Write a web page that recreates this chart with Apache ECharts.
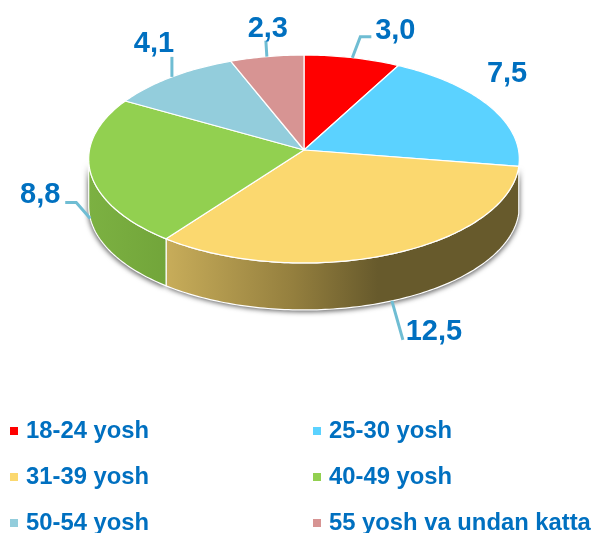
<!DOCTYPE html>
<html>
<head>
<meta charset="utf-8">
<style>html,body{margin:0;padding:0;background:#fff}#c{width:593px;height:533px}</style>
<script src="https://cdn.jsdelivr.net/npm/echarts@6/dist/echarts.min.js"></script>
</head>
<body>
<div id="c"></div>
<script>
const categories = ['18-24 yosh', '25-30 yosh', '31-39 yosh', '40-49 yosh', '50-54 yosh', '55 yosh va undan katta'];
const values = [3.0, 7.5, 12.5, 8.8, 4.1, 2.3];
const colors = ['#ff0000', '#5bd2ff', '#fbd86f', '#92d050', '#93cddc', '#d79493'];

// perspective disc geometry
const CX = 304, CY = 150, RX = 214.5, RY = 103.2, K = 0.0865, DEPTH = 47, FRONT_LIMIT = 265;
const TEXT = '#0070c0', LEADER = '#6fbdd3';
const FONT = '"Liberation Sans", Arial, sans-serif';

const wallFills = {
  2: [{ offset: 0, color: '#c8ad5a' }, { offset: 0.36, color: '#947f3e' }, { offset: 0.6, color: '#675a2c' }, { offset: 1, color: '#675a2c' }],
  3: [{ offset: 0, color: '#7cb142' }, { offset: 1, color: '#72a53a' }]
};
// label placement relative to the slice's rim anchor: [onWall, leader points, label centre]
const labelPlacement = [
  [false, [[8, -21], [19, -21]], [43, -27]],
  [false, [], [18, -32]],
  [true, [[11, 39]], [42, 31]],
  [true, [[-14, -16], [-25, -16]], [-50, -23]],
  [false, [[0, -20]], [-18, -33]],
  [false, [[-1, -16]], [1, -28]]
];

const total = values.reduce((a, b) => a + b, 0);
function rim(deg, dy) {
  const t = deg * Math.PI / 180, u = Math.sin(t), v = -Math.cos(t), d = 1 - K * v;
  return [CX + RX * u / d, CY + RY * v / d + (dy || 0)];
}
function arc(a, b, dy) {
  const pts = [], n = Math.max(2, Math.ceil(Math.abs(b - a)));
  for (let i = 0; i <= n; i++) pts.push(rim(a + (b - a) * i / n, dy));
  return pts;
}

function makeRender(i) {
  return function (params, api) {
    const value = api.value(0);
    let before = 0;
    for (let j = 0; j < i; j++) before += values[j];
    const start = before / total * 360, end = (before + value) / total * 360;
    const mid = (start + end) / 2;
    const children = [];

    // side wall (front half only)
    const wStart = Math.max(start, 95), wEnd = Math.min(end, FRONT_LIMIT);
    if (wEnd > wStart && wallFills[i]) {
      const wall = arc(wStart, wEnd, 0).concat(arc(wEnd, wStart, DEPTH));
      children.push({
        type: 'polygon', z2: 1, shape: { points: wall },
        style: { fill: '#888', shadowBlur: 5, shadowColor: 'rgba(0,0,0,0.6)', shadowOffsetX: i === 2 ? 1 : -1, shadowOffsetY: 2 }
      });
      children.push({
        type: 'polygon', z2: 2, shape: { points: wall },
        style: {
          fill: new echarts.graphic.LinearGradient(0, 0, 1, 0, wallFills[i]),
          stroke: '#fff', lineWidth: 1.2
        }
      });
    }

    // top face
    children.push({
      type: 'polygon', z2: 3, shape: { points: [[CX, CY]].concat(arc(start, end, 0)) },
      style: { fill: colors[i], stroke: '#fff', lineWidth: 1.2, lineJoin: 'round' }
    });

    // leader + value label
    const place = labelPlacement[i];
    const a = rim(mid, place[0] ? DEPTH : 0);
    if (place[1].length) {
      children.push({
        type: 'polyline', z2: 4,
        shape: { points: [a].concat(place[1].map(p => [a[0] + p[0], a[1] + p[1]])) },
        style: { fill: 'none', stroke: LEADER, lineWidth: 3 }
      });
    }
    children.push({
      type: 'text', z2: 5,
      style: {
        x: a[0] + place[2][0], y: a[1] + place[2][1],
        text: value.toFixed(1).replace('.', ','),
        fill: TEXT, fontFamily: FONT, fontWeight: 'bold', fontSize: 29,
        align: 'center', verticalAlign: 'middle'
      }
    });
    return { type: 'group', children };
  };
}

const chart = echarts.init(document.getElementById('c'), null, { renderer: 'canvas' });
chart.setOption({
  animation: false,
  backgroundColor: '#fff',
  legend: {
    left: 10, top: 408, width: 620, padding: 0,
    icon: 'rect', itemWidth: 8, itemHeight: 8, itemGap: 0,
    selectedMode: false,
    data: categories,
    textStyle: {
      color: TEXT, fontFamily: FONT, fontWeight: 'bold', fontSize: 23.8,
      lineHeight: 46, width: 287, padding: [0, 0, 0, 3]
    }
  },
  series: categories.map((name, i) => ({
    type: 'custom',
    name,
    coordinateSystem: 'none',
    silent: true,
    itemStyle: { color: colors[i] },
    renderItem: makeRender(i),
    data: [[values[i]]]
  }))
});
</script>
</body>
</html>
